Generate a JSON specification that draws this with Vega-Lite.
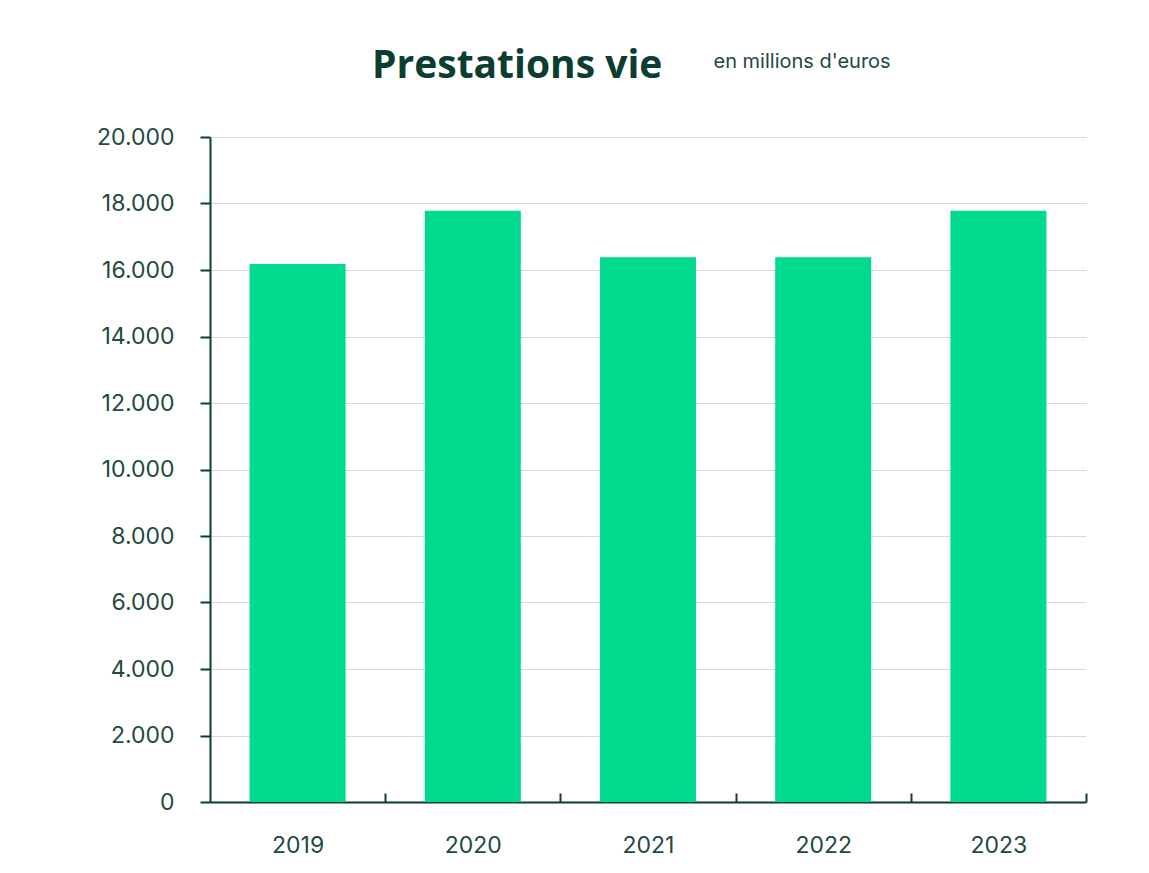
{
  "$schema": "https://vega.github.io/schema/vega-lite/v6.json",
  "width": 876,
  "height": 665,
  "autosize": {"type": "none"},
  "padding": {"left": 210, "top": 137, "right": 63, "bottom": 71},
  "background": "white",
  "title": {
    "text": "Prestations vie",
    "anchor": "start",
    "frame": "group",
    "dx": 162,
    "dy": 45,
    "offset": 10,
    "font": "Open Sans",
    "fontSize": 39,
    "fontWeight": "bold",
    "color": "#0b3d30"
  },
  "config": {
    "locale": {"number": {"decimal": ",", "thousands": ".", "grouping": [3], "currency": ["", " €"]}},
    "view": {"stroke": null}
  },
  "data": {
    "values": [
      {"year": "2019", "value": 16180},
      {"year": "2020", "value": 17780},
      {"year": "2021", "value": 16380},
      {"year": "2022", "value": 16380},
      {"year": "2023", "value": 17780}
    ]
  },
  "mark": {"type": "bar", "color": "#00da8c"},
  "encoding": {
    "x": {
      "field": "year",
      "type": "ordinal",
      "scale": {"paddingInner": 0.452, "paddingOuter": 0.226},
      "axis": {
        "title": null,
        "labelAngle": 0,
        "labelFont": "Inter",
        "labelFontSize": 23,
        "labelColor": "#1e4a3f",
        "labelPadding": 41,
        "labelOffset": -87.6,
        "domainColor": "#0b3d30",
        "domainWidth": 2,
        "tickColor": "#0b3d30",
        "tickWidth": 2,
        "tickSize": -9,
        "tickOffset": 87.6,
        "grid": false
      }
    },
    "y": {
      "field": "value",
      "type": "quantitative",
      "scale": {"domain": [0, 20000]},
      "axis": {
        "values": [0, 2000, 4000, 6000, 8000, 10000, 12000, 14000, 16000, 18000, 20000],
        "format": ",.0f",
        "labelFont": "Inter",
        "labelFontSize": 23,
        "labelColor": "#1e4a3f",
        "labelPadding": 26,
        "domainColor": "#0b3d30",
        "domainWidth": 2,
        "tickColor": "#0b3d30",
        "tickWidth": 2,
        "tickSize": 10,
        "gridColor": "#d9d9d9",
        "gridWidth": 1,
        "title": "en millions d'euros",
        "titleAngle": 0,
        "titleAlign": "left",
        "titleBaseline": "alphabetic",
        "titleX": 503,
        "titleY": -70,
        "titleFont": "Inter",
        "titleFontSize": 20,
        "titleFontWeight": "normal",
        "titleColor": "#1e4a3f"
      }
    }
  }
}
